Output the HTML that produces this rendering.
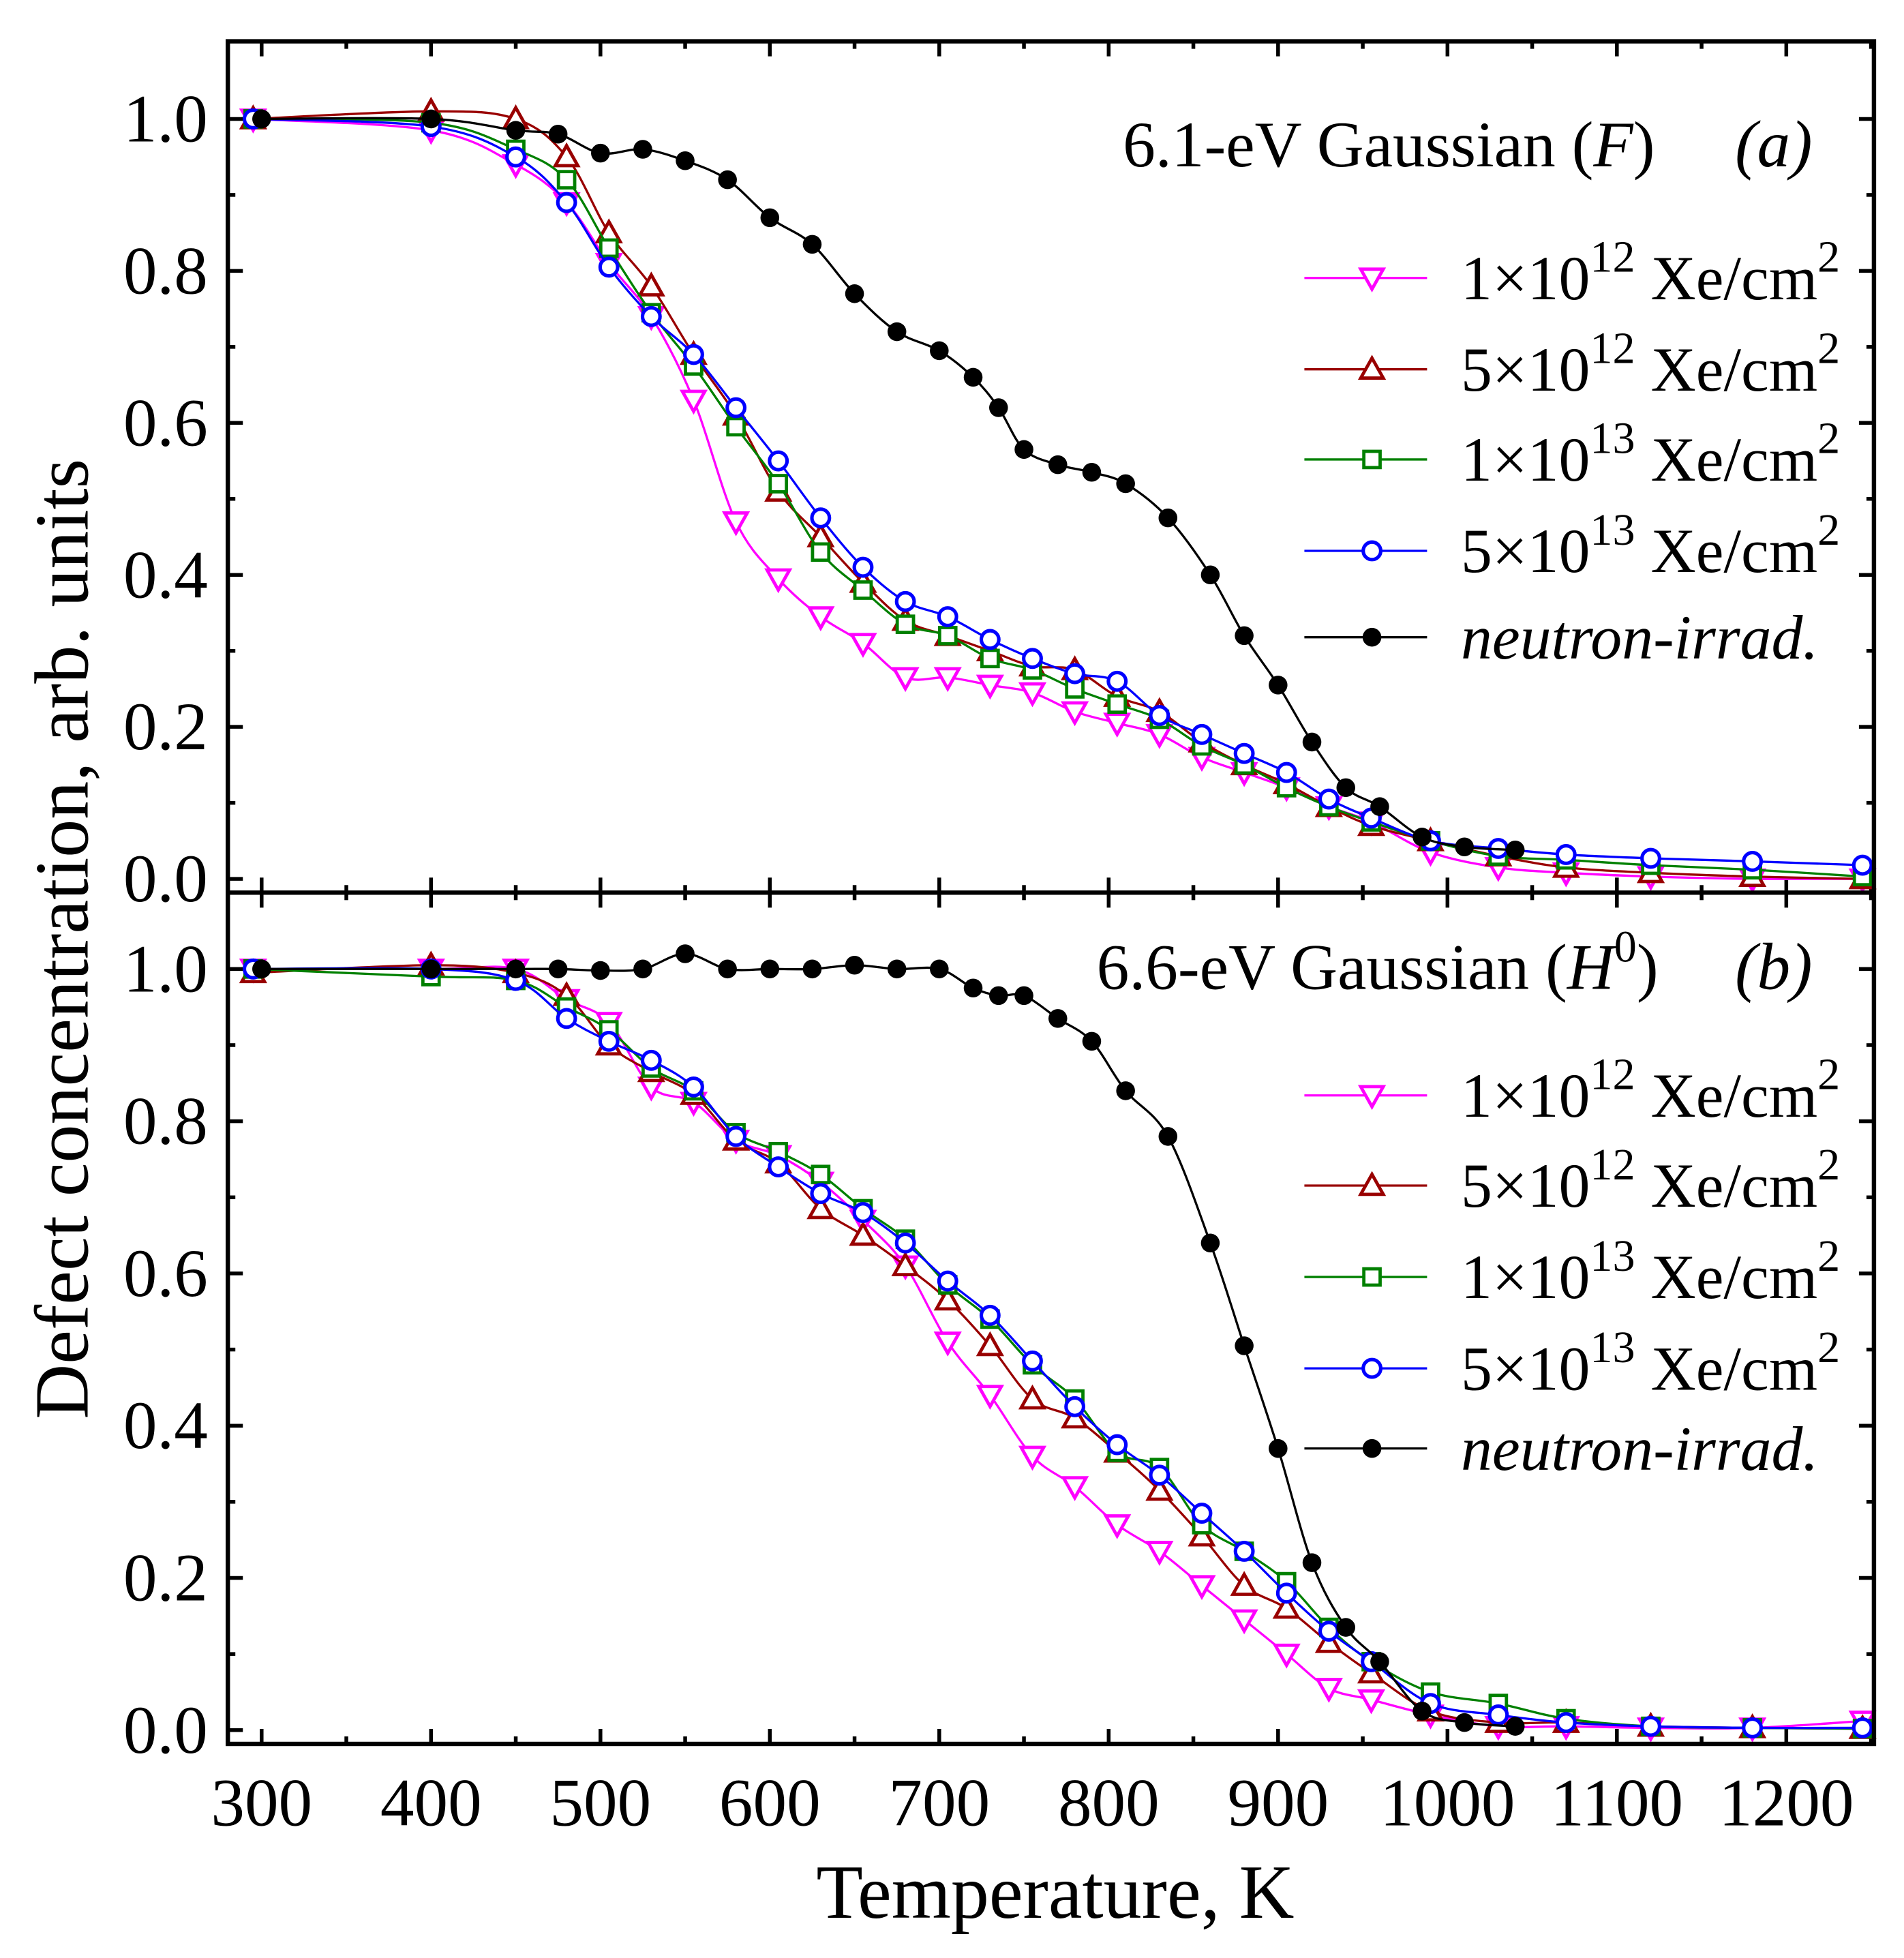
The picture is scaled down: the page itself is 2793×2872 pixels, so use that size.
<!DOCTYPE html>
<html><head><meta charset="utf-8"><style>
html,body{margin:0;padding:0;background:#fff;}
svg{display:block;}
text{font-family:"Liberation Serif","DejaVu Serif",serif;fill:#000;}
</style></head><body>
<svg id="chart" xmlns="http://www.w3.org/2000/svg" width="2793" height="2872" viewBox="0 0 1521 1564" preserveAspectRatio="none">
<g id="root"></g>
</svg>
<script>
const tempsX = [295,400,450,480,505,530,555,580,605,630,655,680,705,730,755,780,805,830,855,880,905,930,955,990,1030,1070,1120,1180,1245];
const tempsN = [300,400,450,475,500,525,550,575,600,625,650,675,700,720,735,750,770,790,810,835,860,880,900,920,940,960,985,1010,1040];
const aPink  = [1.0,0.985,0.94,0.89,0.81,0.74,0.63,0.47,0.395,0.345,0.31,0.265,0.265,0.255,0.245,0.22,0.205,0.19,0.16,0.14,0.12,0.095,0.075,0.035,0.015,0.008,0.003,0.0,0.0];
const aRed   = [1.0,1.01,1.0,0.95,0.85,0.78,0.69,0.61,0.51,0.45,0.39,0.34,0.32,0.3,0.28,0.275,0.24,0.22,0.18,0.15,0.125,0.095,0.07,0.05,0.03,0.015,0.008,0.003,0.0];
const aGreen = [1.0,0.995,0.96,0.92,0.83,0.745,0.675,0.595,0.52,0.43,0.38,0.335,0.32,0.29,0.275,0.25,0.23,0.21,0.175,0.15,0.12,0.095,0.075,0.05,0.03,0.025,0.018,0.012,0.003];
const aBlue  = [1.0,0.99,0.95,0.89,0.805,0.74,0.69,0.62,0.55,0.475,0.41,0.365,0.345,0.315,0.29,0.27,0.26,0.215,0.19,0.165,0.14,0.105,0.08,0.05,0.04,0.032,0.027,0.023,0.018];
const aBlack = [1.0,1.0,0.985,0.98,0.955,0.96,0.945,0.92,0.87,0.835,0.77,0.72,0.695,0.66,0.62,0.565,0.545,0.535,0.52,0.475,0.4,0.32,0.255,0.18,0.12,0.095,0.055,0.042,0.038];
const bPink  = [1.0,1.0,1.0,0.96,0.93,0.845,0.825,0.775,0.755,0.72,0.67,0.61,0.51,0.44,0.36,0.32,0.27,0.235,0.19,0.145,0.1,0.055,0.04,0.02,0.005,0.005,0.003,0.003,0.012];
const bRed   = [0.995,1.005,0.995,0.965,0.9,0.865,0.835,0.775,0.745,0.685,0.65,0.61,0.565,0.505,0.435,0.41,0.365,0.315,0.255,0.19,0.16,0.115,0.075,0.025,0.01,0.01,0.005,0.003,0.002];
const bGreen = [1.0,0.99,0.985,0.95,0.92,0.87,0.84,0.785,0.76,0.73,0.685,0.645,0.585,0.54,0.48,0.435,0.365,0.345,0.27,0.235,0.195,0.135,0.09,0.05,0.035,0.015,0.005,0.003,0.002];
const bBlue  = [1.0,1.0,0.985,0.935,0.905,0.88,0.845,0.78,0.74,0.705,0.68,0.64,0.59,0.545,0.485,0.425,0.375,0.335,0.285,0.235,0.18,0.13,0.09,0.035,0.02,0.01,0.005,0.003,0.003];
const bBlack = [1.0,1.0,1.0,1.0,0.998,1.0,1.02,1.0,1.0,1.0,1.005,1.0,1.0,0.975,0.965,0.965,0.935,0.905,0.84,0.78,0.64,0.505,0.37,0.22,0.135,0.09,0.025,0.01,0.005];
const xTicks = [300,400,500,600,700,800,900,1000,1100,1200];
const yTicks = [0.0,0.2,0.4,0.6,0.8,1.0];
const legendLabels = ["1×10","5×10","1×10","5×10"];
const legendExp = ["12","12","13","13"];

const NS="http://www.w3.org/2000/svg";
const root=document.getElementById('root');
function el(tag,attrs,parent){const e=document.createElementNS(NS,tag);for(const k in attrs)e.setAttribute(k,attrs[k]);(parent||root).appendChild(e);return e;}
const L=182,R=1497;
const xs=T=>209+(T-300)*1.3533;
const panels=[{top:33,bot:713,y0:702,y1:95,label:"a"},{top:713,bot:1393,y0:1382,y1:774,label:"b"}];
const ysF=p=>v=>p.y0+(p.y1-p.y0)*v;

function spline(pts){let d="M"+pts[0][0]+","+pts[0][1];for(let i=0;i<pts.length-1;i++){const p0=pts[i-1]||pts[i],p1=pts[i],p2=pts[i+1],p3=pts[i+2]||p2;const t=0.5/3;d+=" C"+(p1[0]+(p2[0]-p0[0])*t)+","+(p1[1]+(p2[1]-p0[1])*t)+" "+(p2[0]-(p3[0]-p1[0])*t)+","+(p2[1]-(p3[1]-p1[1])*t)+" "+p2[0]+","+p2[1];}return d;}
function marker(type,x,y,color,g){
  let m;
  if(type==="down"){m=el('polygon',{points:`${x-9},${y-7} ${x+9},${y-7} ${x},${y+9}`,fill:"#fff",stroke:color,"stroke-width":2.6},g);}
  else if(type==="up"){m=el('polygon',{points:`${x-9},${y+7} ${x+9},${y+7} ${x},${y-9}`,fill:"#fff",stroke:color,"stroke-width":2.6},g);}
  else if(type==="sq"){m=el('rect',{x:x-6.5,y:y-6.5,width:13,height:13,fill:"#fff",stroke:color,"stroke-width":2.6},g);}
  else if(type==="circ"){m=el('circle',{cx:x,cy:y,r:7,fill:"#fff",stroke:color,"stroke-width":2.8},g);}
  else {m=el('circle',{cx:x,cy:y,r:7.5,fill:"#000"},g);}
  return m;
}
const seriesDef=[["down","#ff00ff"],["up","#990000"],["sq","#008000"],["circ","#0000ff"],["dot","#000"]];

panels.forEach((p,pi)=>{
  const ys=ysF(p);
  const data=pi===0?[aPink,aRed,aGreen,aBlue,aBlack]:[bPink,bRed,bGreen,bBlue,bBlack];
  const pg=el('g',{});
  
  
  for(let v=0;v<=1.05;v+=0.1){const y=ys(v);const major=Math.round(v*10)%2===0;const len=major?12:6;
    el('line',{x1:L,x2:L+len,y1:y,y2:y,stroke:"#000","stroke-width":3},pg);
    el('line',{x1:R,x2:R-len,y1:y,y2:y,stroke:"#000","stroke-width":3},pg);}
  for(let T=300;T<=1250;T+=50){const x=xs(T);const major=T%100===0;const len=major?12:6;
    el('line',{x1:x,x2:x,y1:p.bot,y2:p.bot-len,stroke:"#000","stroke-width":3},pg);
    el('line',{x1:x,x2:x,y1:p.top,y2:p.top+len,stroke:"#000","stroke-width":3},pg);}
  yTicks.forEach(v=>{const t=el('text',{x:166,y:ys(v)+18,"text-anchor":"end","font-size":54},pg);t.textContent=v.toFixed(1);
    
    });
  data.forEach((vals,si)=>{
    const T=si===4?tempsN:tempsX;const [type,color]=seriesDef[si];
    const sg=el('g',{},pg);
    
    
    const pts=vals.map((v,i)=>[xs(T[i]),ys(v)]);
    el('path',{d:spline(pts),fill:"none",stroke:color,"stroke-width":1.8},sg);
    pts.forEach(pt=>{const m=marker(type,pt[0],pt[1],color,sg);
      
      });
  });
  const ly=pi===0?[222,295,367,440,509]:[875,947,1020,1093,1157];
  ly.forEach((y,i)=>{const [type,color]=seriesDef[i];
    const lg=el('g',{},pg);
    
    
    el('line',{x1:1042,x2:1140,y1:y,y2:y,stroke:color,"stroke-width":1.8},lg);
    marker(type,1096,y,color,lg);
    const t=el('text',{x:1167,y:y+17,"font-size":50},lg);
    if(i<4){t.innerHTML=legendLabels[i]+'<tspan dy="-22" font-size="36">'+legendExp[i]+'</tspan><tspan dy="22"> Xe/cm</tspan><tspan dy="-22" font-size="36">2</tspan>';}
    else{t.setAttribute('font-style','italic');t.textContent='neutron-irrad.';}
  });
  const tt=el('text',{x:pi===0?897:876,y:pi===0?133:790,"font-size":52},pg);
  
  
  tt.innerHTML=pi===0?'6.1-eV Gaussian (<tspan font-style="italic">F</tspan>)':'6.6-eV Gaussian (<tspan font-style="italic">H</tspan><tspan dy="-22" font-size="36">0</tspan><tspan dy="22">)</tspan>';
  const pl=el('text',{x:1386,y:pi===0?133:790,"font-size":53,"font-style":"italic"},pg);
  
  
  pl.textContent='('+p.label+')';
});
const fr=el('rect',{x:L,y:33,width:R-L,height:1360,fill:"none",stroke:"#000","stroke-width":3.5});


const dv=el('line',{x1:L,x2:R,y1:713,y2:713,stroke:"#000","stroke-width":3.5});


xTicks.forEach(T=>{const t=el('text',{x:xs(T),y:1458,"text-anchor":"middle","font-size":54});t.textContent=T;
  
  });
const xt=el('text',{x:843,y:1532,"text-anchor":"middle","font-size":61});xt.textContent='Temperature, K';


const yt=el('text',{x:0,y:0,"text-anchor":"middle","font-size":61,transform:"translate(70,750) rotate(-90)"});yt.textContent='Defect concentration, arb. units';


</script>
</body></html>
